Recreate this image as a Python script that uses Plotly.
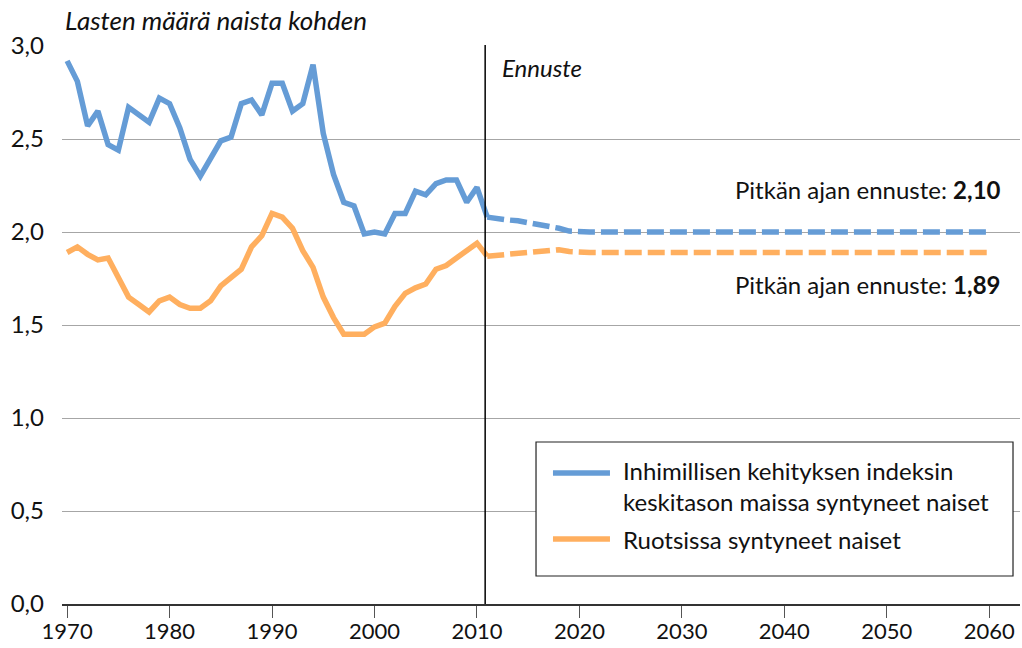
import plotly.graph_objects as go

# Historical data (1970-2011)
hist_years = list(range(1970, 2012))
blue_hist = [2.92, 2.81, 2.57, 2.65, 2.47, 2.44, 2.67, 2.63, 2.59, 2.72,
             2.69, 2.56, 2.39, 2.30, 2.39, 2.49, 2.51, 2.69, 2.71, 2.63,
             2.80, 2.80, 2.65, 2.69, 2.90, 2.53, 2.31, 2.16, 2.14, 1.99,
             2.00, 1.99, 2.10, 2.10, 2.22, 2.20, 2.26, 2.28, 2.28, 2.16,
             2.24, 2.08]
orange_hist = [1.89, 1.92, 1.88, 1.85, 1.86, 1.75, 1.65, 1.61, 1.57, 1.63,
               1.65, 1.61, 1.59, 1.59, 1.63, 1.71, 1.76, 1.80, 1.92, 1.98,
               2.10, 2.08, 2.02, 1.90, 1.81, 1.65, 1.54, 1.45, 1.45, 1.45,
               1.49, 1.51, 1.60, 1.67, 1.70, 1.72, 1.80, 1.82, 1.86, 1.90,
               1.94, 1.87]

# Forecast (2011-2060)
fc_years = list(range(2011, 2061))
blue_fc = [2.08, 2.07, 2.065, 2.06, 2.05, 2.045, 2.03, 2.02, 2.005, 2.00,
           2.00, 2.00, 2.00, 2.00, 2.00, 2.00, 2.00, 2.00, 2.00, 2.00,
           2.00, 2.00, 2.00, 2.00, 2.00, 2.00, 2.00, 2.00, 2.00, 2.00,
           2.00, 2.00, 2.00, 2.00, 2.00, 2.00, 2.00, 2.00, 2.00, 2.00,
           2.00, 2.00, 2.00, 2.00, 2.00, 2.00, 2.00, 2.00, 2.00, 2.00]
orange_fc = [1.87, 1.875, 1.88, 1.885, 1.895, 1.90, 1.905, 1.905, 1.895, 1.89,
             1.89, 1.89, 1.89, 1.89, 1.89, 1.89, 1.89, 1.89, 1.89, 1.89,
             1.89, 1.89, 1.89, 1.89, 1.89, 1.89, 1.89, 1.89, 1.89, 1.89,
             1.89, 1.89, 1.89, 1.89, 1.89, 1.89, 1.89, 1.89, 1.89, 1.89,
             1.89, 1.89, 1.89, 1.89, 1.89, 1.89, 1.89, 1.89, 1.89, 1.89]

x_ticks = [1970, 1980, 1990, 2000, 2010, 2020, 2030, 2040, 2050, 2060]
y_ticks = [0, 0.5, 1.0, 1.5, 2.0, 2.5, 3.0]

series_names = ["Inhimillisen kehityksen indeksin<br>keskitason maissa syntyneet naiset",
                "Ruotsissa syntyneet naiset"]

BLUE = "#659CD6"
ORANGE = "#FFAF5F"
FONT = "Lato"
TXT = "#111111"
FS = 24

fig = go.Figure()
fig.add_trace(go.Scatter(x=hist_years, y=orange_hist, mode="lines",
                         line=dict(color=ORANGE, width=5.5), showlegend=False))
fig.add_trace(go.Scatter(x=fc_years, y=orange_fc, mode="lines",
                         line=dict(color=ORANGE, width=5.5, dash="17px,6px"), showlegend=False))
fig.add_trace(go.Scatter(x=hist_years, y=blue_hist, mode="lines",
                         line=dict(color=BLUE, width=5.5), showlegend=False))
fig.add_trace(go.Scatter(x=fc_years, y=blue_fc, mode="lines",
                         line=dict(color=BLUE, width=5.5, dash="17px,6px"), showlegend=False))

# Vertical forecast divider
fig.add_shape(type="line", xref="x", yref="paper", x0=2010.8, x1=2010.8, y0=0, y1=1.002,
              line=dict(color="black", width=1.5))

# Manual legend
fig.add_shape(type="rect", xref="paper", yref="paper", x0=0.4948, x1=0.9927, y0=0.0502, y1=0.2903,
              line=dict(color="#222222", width=1.2), fillcolor="white", layer="above")
fig.add_shape(type="line", xref="paper", yref="paper", x0=0.5125, x1=0.572, y0=0.2348, y1=0.2348,
              line=dict(color=BLUE, width=5.5), layer="above")
fig.add_shape(type="line", xref="paper", yref="paper", x0=0.5125, x1=0.572, y0=0.1165, y1=0.1165,
              line=dict(color=ORANGE, width=5.5), layer="above")

ann = [
    dict(x=0.5835, y=0.2113, text=series_names[0], xanchor="left", yanchor="middle", size=FS, align="left"),
    dict(x=0.5835, y=0.1147, text=series_names[1], xanchor="left", yanchor="middle", size=FS),
    dict(x=0.9823, y=0.742, text="Pitkän ajan ennuste: <b>2,10</b>", xanchor="right", yanchor="middle", size=FS),
    dict(x=0.9823, y=0.5717, text="Pitkän ajan ennuste: <b>1,89</b>", xanchor="right", yanchor="middle", size=FS),
    dict(x=0.4572, y=0.9606, text="<i>Ennuste</i>", xanchor="left", yanchor="middle", size=FS),
    dict(x=0.001, y=1.0466, text="<i>Lasten määrä naista kohden</i>", xanchor="left", yanchor="middle", size=26),
]
for a in ann:
    sz = a.pop("size")
    fig.add_annotation(xref="paper", yref="paper", showarrow=False,
                       font=dict(family=FONT, size=sz, color=TXT), **a)

fig.update_layout(
    width=1022, height=648,
    margin=dict(l=62, r=2, t=46, b=44),
    paper_bgcolor="white", plot_bgcolor="white",
    separators=", ",
    font=dict(family=FONT, size=FS, color=TXT),
    showlegend=False,
)
fig.update_xaxes(range=[1969.5, 2063], tickvals=x_ticks, ticktext=[str(v) for v in x_ticks],
                 showgrid=False, zeroline=False, showline=True, linecolor="#333333", linewidth=1.5,
                 ticks="outside", ticklen=12, tickcolor="#555555", tickwidth=1.2,
                 automargin=False, ticklabelstandoff=-5,
                 tickfont=dict(family=FONT, size=22, color=TXT))
fig.update_yaxes(range=[0, 3], tickvals=y_ticks, tickformat=".1f",
                 showgrid=True, gridcolor="#A6A6A6", gridwidth=1, zeroline=False,
                 showline=False, ticks="", ticklabelstandoff=17, automargin=False,
                 tickfont=dict(family=FONT, size=FS, color=TXT))

# Remove the default 8px page margin so the figure fills the window exactly
fig.write_html("out.html", config={"displayModeBar": False},
               post_script="document.body.style.margin='0';document.body.style.overflow='hidden';")
